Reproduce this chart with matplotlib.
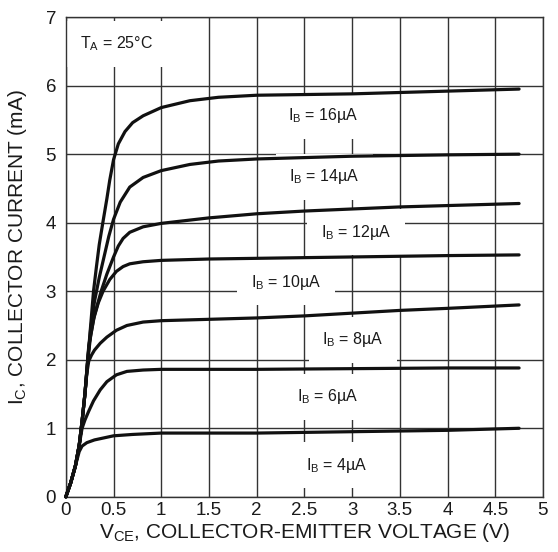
import matplotlib
matplotlib.use("Agg")
import matplotlib.pyplot as plt

plt.rcParams['font.family'] = ['Liberation Sans', 'DejaVu Sans']
plt.rcParams['mathtext.default'] = 'regular'

# collector characteristics (V_CE in V, I_C in mA)
v_4 = [0, 0.05, 0.1, 0.14, 0.17, 0.22, 0.3, 0.4, 0.5, 0.7, 1.0, 1.5, 2.0, 3.0, 4.0, 4.75]
i_4 = [0, 0.2, 0.45, 0.66, 0.74, 0.79, 0.83, 0.86, 0.89, 0.91, 0.93, 0.93, 0.93, 0.95, 0.97, 1.0]

v_6 = [0, 0.05, 0.1, 0.14, 0.17, 0.2, 0.24, 0.29, 0.36, 0.43, 0.53, 0.64, 0.81, 1.0, 1.5, 2.0, 3.0, 4.0, 4.75]
i_6 = [0, 0.2, 0.45, 0.75, 1.0, 1.12, 1.25, 1.4, 1.56, 1.68, 1.78, 1.83, 1.85, 1.86, 1.86, 1.86, 1.87, 1.88, 1.88]

v_8 = [0, 0.05, 0.1, 0.14, 0.17, 0.2, 0.22, 0.24, 0.27, 0.3, 0.36, 0.43, 0.53, 0.64, 0.81, 1.0, 1.5, 2.0, 2.5, 3.0, 3.5, 4.0, 4.75]
i_8 = [0, 0.2, 0.45, 0.75, 1.1, 1.5, 1.8, 1.98, 2.07, 2.14, 2.24, 2.33, 2.43, 2.5, 2.55, 2.57, 2.59, 2.61, 2.64, 2.68, 2.72, 2.75, 2.8]

v_10 = [0, 0.05, 0.1, 0.14, 0.17, 0.2, 0.23, 0.26, 0.29, 0.34, 0.39, 0.46, 0.53, 0.6, 0.67, 0.81, 1.0, 1.5, 2.0, 3.0, 4.0, 4.75]
i_10 = [0, 0.2, 0.45, 0.75, 1.1, 1.5, 2.0, 2.35, 2.59, 2.83, 3.0, 3.17, 3.29, 3.36, 3.4, 3.43, 3.45, 3.47, 3.48, 3.5, 3.52, 3.53]

v_12 = [0, 0.05, 0.1, 0.14, 0.17, 0.2, 0.24, 0.3, 0.37, 0.43, 0.5, 0.55, 0.6, 0.67, 0.81, 1.0, 1.5, 2.0, 2.5, 3.0, 3.5, 4.0, 4.75]
i_12 = [0, 0.2, 0.45, 0.75, 1.1, 1.5, 2.2, 2.65, 3.0, 3.25, 3.5, 3.66, 3.77, 3.86, 3.94, 3.99, 4.07, 4.13, 4.17, 4.2, 4.23, 4.25, 4.28]

v_14 = [0, 0.05, 0.1, 0.14, 0.17, 0.2, 0.23, 0.26, 0.3, 0.35, 0.4, 0.45, 0.5, 0.57, 0.67, 0.81, 1.0, 1.3, 1.6, 2.0, 2.5, 3.0, 4.0, 4.75]
i_14 = [0, 0.2, 0.45, 0.75, 1.1, 1.5, 2.0, 2.45, 2.85, 3.2, 3.5, 3.8, 4.05, 4.3, 4.52, 4.66, 4.76, 4.85, 4.9, 4.93, 4.95, 4.97, 4.99, 5.0]

v_16 = [0, 0.05, 0.1, 0.14, 0.17, 0.2, 0.23, 0.26, 0.29, 0.32, 0.35, 0.39, 0.43, 0.46, 0.5, 0.55, 0.62, 0.7, 0.81, 1.0, 1.3, 1.6, 2.0, 2.5, 3.0, 3.5, 4.0, 4.75]
i_16 = [0, 0.2, 0.45, 0.75, 1.1, 1.5, 2.0, 2.5, 3.0, 3.35, 3.68, 4.02, 4.35, 4.62, 4.92, 5.15, 5.33, 5.46, 5.56, 5.68, 5.78, 5.83, 5.86, 5.87, 5.88, 5.9, 5.92, 5.95]

curves = [(v_4, i_4), (v_6, i_6), (v_8, i_8), (v_10, i_10),
          (v_12, i_12), (v_14, i_14), (v_16, i_16)]

# curve labels and where they sit
label_text = [r'$I_B$ = 4µA', r'$I_B$ = 6µA', r'$I_B$ = 8µA', r'$I_B$ = 10µA',
              r'$I_B$ = 12µA', r'$I_B$ = 14µA', r'$I_B$ = 16µA']
label_x = [2.84, 2.74, 3.01, 2.31, 3.04, 2.71, 2.70]
label_y = [0.46, 1.46, 2.29, 3.13, 3.86, 4.67, 5.56]

x_ticks = [0, 0.5, 1, 1.5, 2, 2.5, 3, 3.5, 4, 4.5, 5]
x_ticklabels = ['0', '0.5', '1', '1.5', '2', '2.5', '3', '3.5', '4', '4.5', '5']
y_ticks = [0, 1, 2, 3, 4, 5, 6, 7]

fig = plt.figure(figsize=(5.58, 5.52), dpi=100)
ax = fig.add_axes([0.118, 0.100, 0.855, 0.869])

ax.set_xlim(0, 5)
ax.set_ylim(0, 7)
ax.set_xticks(x_ticks)
ax.set_xticklabels(x_ticklabels)
ax.set_yticks(y_ticks)
ax.tick_params(axis='both', length=0, labelsize=13.5, colors='#1a1a1a')
ax.tick_params(axis='x', pad=4)
ax.tick_params(axis='y', pad=7)
ax.grid(True, color='#333333', linewidth=1.0, zorder=0)
ax.set_axisbelow(True)
for s in ax.spines.values():
    s.set_color('#333333')
    s.set_linewidth(1.0)

for v, i in curves:
    ax.plot(v, i, color='#111111', linewidth=2.3, solid_joinstyle='round',
            solid_capstyle='round', zorder=4, clip_on=False)

box = dict(boxstyle='square,pad=0.85', facecolor='white', edgecolor='none')
for t, x, y in zip(label_text, label_x, label_y):
    ax.text(x, y, t, ha='center', va='center', fontsize=11.5, color='#1a1a1a',
            bbox=box, zorder=2)

ax.text(0.535, 6.61, r'$T_A$ = 25°C', ha='center', va='center', fontsize=11.5,
        color='#1a1a1a', bbox=box, zorder=2)

ax.set_xlabel(r'$V_{CE}$, COLLECTOR-EMITTER VOLTAGE (V)', fontsize=15, color='#1a1a1a',
              labelpad=1)
ax.set_ylabel(r'$I_C$, COLLECTOR CURRENT (mA)', fontsize=15, color='#1a1a1a',
              labelpad=3)
ax.yaxis.set_label_coords(-0.078, 0.52)

fig.savefig('out.png', dpi=100, facecolor='white')
